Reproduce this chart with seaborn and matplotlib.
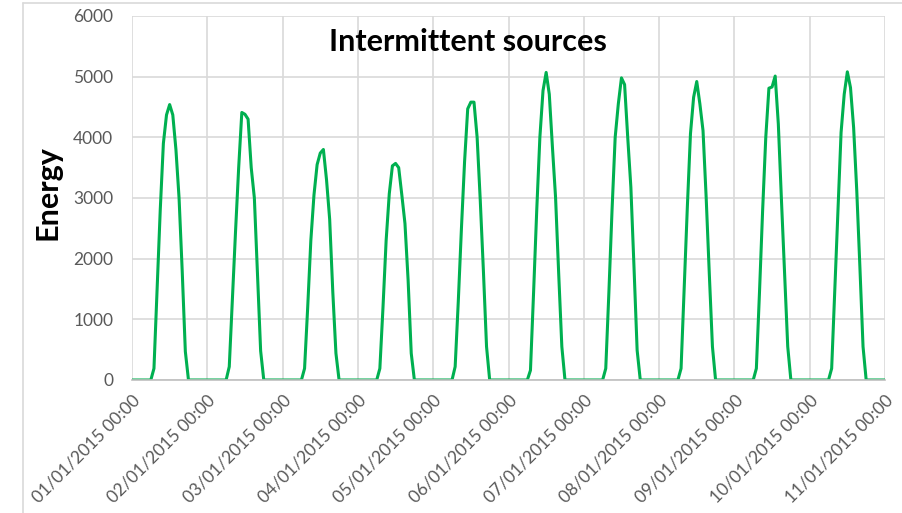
import numpy as np
import pandas as pd
import seaborn as sns
import matplotlib
matplotlib.use("Agg")
import matplotlib.pyplot as plt
from matplotlib.lines import Line2D

# Hourly energy values (hours 00..23) for each day
day01 = [0, 0, 0, 0, 0, 0, 0, 190, 1500, 2800, 3900, 4370, 4540, 4370, 3800, 3000, 1800, 470, 0, 0, 0, 0, 0, 0]
day02 = [0, 0, 0, 0, 0, 0, 0, 220, 1350, 2450, 3500, 4410, 4380, 4300, 3500, 3000, 1750, 480, 0, 0, 0, 0, 0, 0]
day03 = [0, 0, 0, 0, 0, 0, 0, 190, 1200, 2300, 3050, 3550, 3740, 3800, 3300, 2650, 1450, 440, 0, 0, 0, 0, 0, 0]
day04 = [0, 0, 0, 0, 0, 0, 0, 190, 1200, 2300, 3070, 3530, 3570, 3500, 3050, 2580, 1650, 440, 0, 0, 0, 0, 0, 0]
day05 = [0, 0, 0, 0, 0, 0, 0, 220, 1300, 2500, 3600, 4470, 4580, 4580, 4000, 2960, 1800, 550, 0, 0, 0, 0, 0, 0]
day06 = [0, 0, 0, 0, 0, 0, 0, 160, 1450, 2800, 4000, 4770, 5070, 4710, 3840, 3010, 1750, 550, 0, 0, 0, 0, 0, 0]
day07 = [0, 0, 0, 0, 0, 0, 0, 190, 1450, 2800, 4000, 4550, 4980, 4870, 4000, 3180, 1860, 490, 0, 0, 0, 0, 0, 0]
day08 = [0, 0, 0, 0, 0, 0, 0, 190, 1500, 2850, 4060, 4660, 4920, 4550, 4110, 3010, 1750, 550, 0, 0, 0, 0, 0, 0]
day09 = [0, 0, 0, 0, 0, 0, 0, 190, 1450, 2800, 4000, 4810, 4830, 5010, 4220, 2960, 1750, 550, 0, 0, 0, 0, 0, 0]
day10 = [0, 0, 0, 0, 0, 0, 0, 190, 1500, 2850, 4080, 4710, 5080, 4820, 4160, 3120, 1860, 550, 0, 0, 0, 0, 0, 0]
final_value = [0]  # 11/01/2015 00:00

tick_labels = ["01/01/2015 00:00", "02/01/2015 00:00", "03/01/2015 00:00",
               "04/01/2015 00:00", "05/01/2015 00:00", "06/01/2015 00:00",
               "07/01/2015 00:00", "08/01/2015 00:00", "09/01/2015 00:00",
               "10/01/2015 00:00", "11/01/2015 00:00"]
y_ticks = [0, 1000, 2000, 3000, 4000, 5000, 6000]

energy = (day01 + day02 + day03 + day04 + day05 + day06 + day07 + day08
          + day09 + day10 + final_value)
df = pd.DataFrame({"hour": np.arange(len(energy)), "energy": energy})

sns.set_theme(style="white")
plt.rcParams["font.family"] = ["Lato", "DejaVu Sans"]

fig = plt.figure(figsize=(9.02, 5.13), dpi=100)
ax = fig.add_axes([132 / 902, 1 - 380 / 513, (885 - 132) / 902, (380 - 16) / 513])

grid_c = "#d9d9d9"
ax.set_axisbelow(True)
ax.grid(True, color=grid_c, linewidth=1.2)

sns.lineplot(data=df, x="hour", y="energy", ax=ax, color="#00B050",
             linewidth=2.2, legend=False)

ax.set_xlim(0, 240)
ax.set_ylim(0, 6000)
ax.set_xticks(np.arange(0, 241, 24))
ax.set_xticklabels(tick_labels, rotation=45, ha="right", va="top",
                   rotation_mode="anchor", color="#595959", fontsize=12.5)
ax.set_yticks(y_ticks)
ax.set_yticklabels([str(v) for v in y_ticks], color="#595959", fontsize=12.5)
ax.tick_params(axis="both", length=0)
ax.tick_params(axis="y", pad=13.5)
ax.tick_params(axis="x", pad=9)

for s in ["left", "right", "top"]:
    ax.spines[s].set_visible(False)
ax.spines["bottom"].set_color("#bfbfbf")
ax.spines["bottom"].set_linewidth(1.2)

ax.set_xlabel("")
ax.set_ylabel("")

fig.text(468 / 902, 1 - 42 / 513, "Intermittent sources", ha="center",
         va="center", fontsize=22, fontweight="bold", color="black")
fig.text(48 / 902, 1 - 193 / 513, "Energy", ha="center", va="center",
         rotation=90, fontsize=22, fontweight="bold", color="black")

# Chart area border (left and top)
fig.add_artist(Line2D([23 / 902, 23 / 902], [0, 1 - 3 / 513],
                      transform=fig.transFigure, color=grid_c, linewidth=1.2))
fig.add_artist(Line2D([23 / 902, 1], [1 - 3 / 513, 1 - 3 / 513],
                      transform=fig.transFigure, color=grid_c, linewidth=1.2))

fig.savefig("out.png", dpi=100)
